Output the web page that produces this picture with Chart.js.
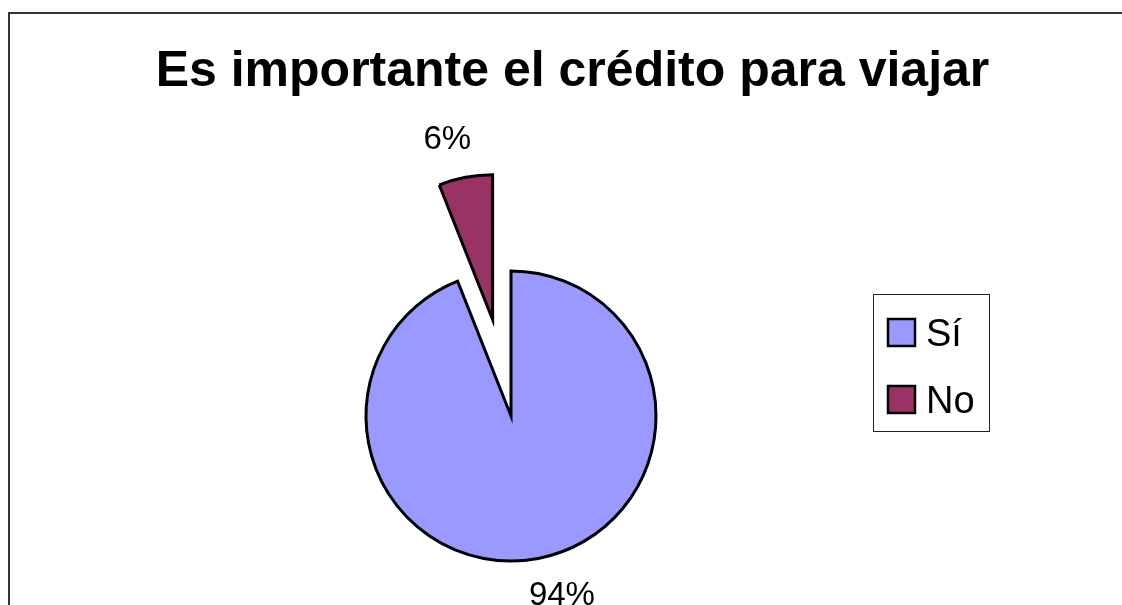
<!DOCTYPE html>
<html>
<head>
<meta charset="utf-8">
<script src="https://cdn.jsdelivr.net/npm/chart.js@4.4.1/dist/chart.umd.min.js"></script>
<style>
  html, body { margin: 0; padding: 0; background: #fff; overflow: hidden; }
  #wrap { width: 1122px; height: 605px; }
</style>
</head>
<body>
<div id="wrap"><canvas id="pie" width="1122" height="605"></canvas></div>
<script>
// ── data ──────────────────────────────────────────
const TITLE = 'Es importante el crédito para viajar';
const categories = ['Sí', 'No'];
const values = [94, 6];
const sliceColors = ['#9999FF', '#993366'];
const explodedSlice = 'No';

const FONT = "'Liberation Sans', Arial, sans-serif";
Chart.defaults.font.family = FONT;
Chart.defaults.color = '#000';

// white background + chart frame (top and left edges visible)
const framePlugin = {
  id: 'frame',
  beforeDraw(chart) {
    const ctx = chart.ctx;
    ctx.save();
    ctx.fillStyle = '#fff';
    ctx.fillRect(0, 0, chart.width, chart.height);
    ctx.strokeStyle = '#333';
    ctx.lineWidth = 2;
    ctx.beginPath();
    ctx.moveTo(9, chart.height + 5);
    ctx.lineTo(9, 13);
    ctx.lineTo(chart.width + 5, 13);
    ctx.stroke();
    ctx.restore();
  }
};

// pull one slice out of the pie along its mid angle
const explodePlugin = {
  id: 'explode',
  afterDatasetsUpdate(chart, args, opts) {
    const meta = chart.getDatasetMeta(0);
    meta.data.forEach((arc, i) => {
      if (chart.data.labels[i] !== opts.label) return;
      const mid = (arc.startAngle + arc.endAngle) / 2;
      arc.x += Math.cos(mid) * opts.distance;
      arc.y += Math.sin(mid) * opts.distance;
    });
  }
};

// percentage labels outside each slice
const pctPlugin = {
  id: 'pct',
  afterDatasetsDraw(chart, args, opts) {
    const ctx = chart.ctx;
    const data = chart.data.datasets[0].data;
    const total = data.reduce((a, b) => a + b, 0);
    ctx.save();
    ctx.font = `${opts.size}px ${FONT}`;
    ctx.fillStyle = '#000';
    ctx.textAlign = 'center';
    ctx.textBaseline = 'middle';
    chart.getDatasetMeta(0).data.forEach((arc, i) => {
      const txt = Math.round(data[i] / total * 100) + '%';
      const mid = (arc.startAngle + arc.endAngle) / 2;
      const dx = Math.cos(mid), dy = Math.sin(mid);
      const r = arc.outerRadius + opts.gap;
      const w = ctx.measureText(txt).width;
      const x = arc.x + dx * r + Math.sign(dx) * w / 2 * 0.6;
      const y = arc.y + dy * r + Math.sign(dy) * opts.size / 2;
      ctx.fillText(txt, x, y);
    });
    ctx.restore();
  }
};

// boxed legend, added to the chart layout as a box on the right
const boxLegendPlugin = {
  id: 'boxLegend',
  beforeInit(chart, args, opts) {
    const box = {
      position: 'right',
      fullSize: false,
      weight: 1000,
      options: {},
      width: 0, height: 0, left: 0, top: 0, right: 0, bottom: 0,
      isHorizontal() { return false; },
      update(maxWidth, maxHeight) {
        this.width = opts.slot;
        this.height = maxHeight;
      },
      draw() {
        const ctx = chart.ctx;
        const ds = chart.data.datasets[0];
        const x = this.left, y = opts.y;
        ctx.save();
        ctx.strokeStyle = '#222';
        ctx.lineWidth = 1;
        ctx.strokeRect(x + 0.5, y + 0.5, opts.w, opts.h);
        ctx.font = `${opts.size}px ${FONT}`;
        ctx.textBaseline = 'alphabetic';
        ctx.textAlign = 'left';
        chart.data.labels.forEach((lab, i) => {
          const sy = y + opts.firstRow + i * opts.rowGap;
          ctx.fillStyle = ds.backgroundColor[i];
          ctx.fillRect(x + opts.swatchX, sy, opts.swatch, opts.swatch);
          ctx.strokeStyle = '#000';
          ctx.lineWidth = 2.5;
          ctx.strokeRect(x + opts.swatchX, sy, opts.swatch, opts.swatch);
          ctx.fillStyle = '#000';
          ctx.fillText(lab, x + opts.textX, sy + opts.swatch / 2 + 13);
        });
        ctx.restore();
      }
    };
    Chart.layouts.addBox(chart, box);
  }
};

new Chart(document.getElementById('pie'), {
  type: 'pie',
  data: {
    labels: categories,
    datasets: [{
      data: values,
      backgroundColor: sliceColors,
      borderColor: '#000',
      borderWidth: 3,
      borderJoinStyle: 'miter',
      hoverOffset: 0
    }]
  },
  options: {
    responsive: false,
    animation: false,
    events: [],
    radius: 145,
    layout: { padding: { left: 149, right: 126, top: 0, bottom: 0 } },
    plugins: {
      legend: { display: false },
      tooltip: { enabled: false },
      title: {
        display: true,
        text: TITLE,
        align: 'center',
        color: '#000',
        font: { size: 50, weight: 'bold', family: FONT, lineHeight: 1.2 },
        padding: { top: 42, bottom: 125 }
      },
      explode: { label: explodedSlice, distance: 98 },
      pct: { size: 33, gap: 21 },
      boxLegend: { slot: 123, y: 294, w: 116, h: 137, size: 38, swatch: 27,
                   swatchX: 15, textX: 53, firstRow: 25, rowGap: 67 }
    }
  },
  plugins: [framePlugin, explodePlugin, pctPlugin, boxLegendPlugin]
});
</script>
</body>
</html>
